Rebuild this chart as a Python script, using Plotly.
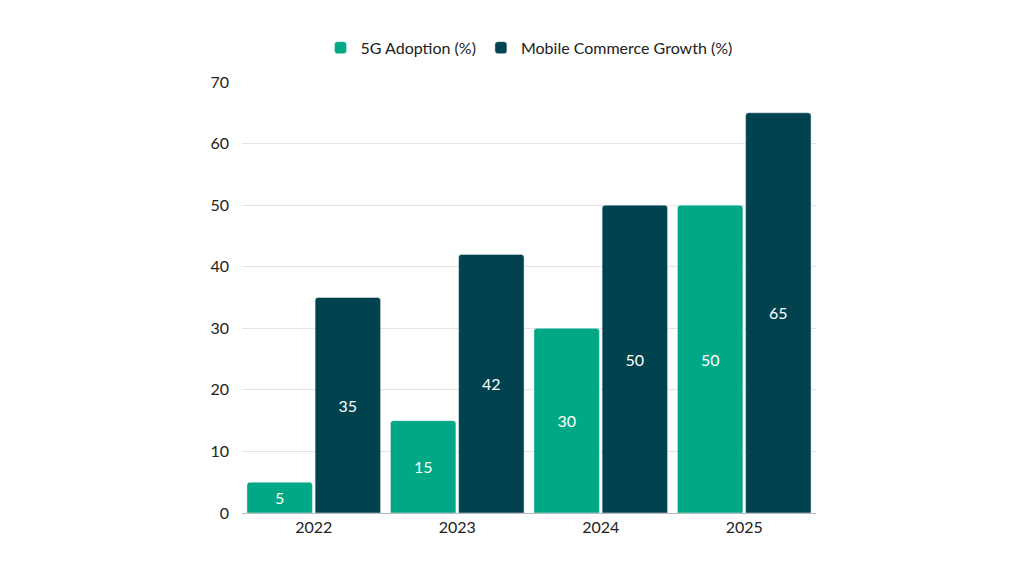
import plotly.graph_objects as go

years = ["2022", "2023", "2024", "2025"]
adoption_5g = [5, 15, 30, 50]
mobile_commerce = [35, 42, 50, 65]

fig = go.Figure()
fig.add_trace(go.Bar(
    x=years, y=adoption_5g, name="5G Adoption (%)",
    marker=dict(color="#00a886", cornerradius=3),
    text=adoption_5g, textposition="inside", insidetextanchor="middle",
    textfont=dict(color="white", size=16),
))
fig.add_trace(go.Bar(
    x=years, y=mobile_commerce, name="Mobile Commerce Growth (%)",
    marker=dict(color="#00434f", cornerradius=3),
    text=mobile_commerce, textposition="inside", insidetextanchor="middle",
    textfont=dict(color="white", size=16),
))

fig.update_layout(
    width=1024, height=576,
    paper_bgcolor="white", plot_bgcolor="white",
    font=dict(family="Lato", size=16, color="#222"),
    margin=dict(l=234, r=216, t=74, b=71),
    bargap=0.05, bargroupgap=0.04,
    showlegend=True,
    legend=dict(orientation="h", x=0.5, xanchor="center", y=1.04, yanchor="bottom",
                font=dict(size=16)),
    xaxis=dict(showgrid=False, showline=True, linecolor="#bbb", ticks=""),
    yaxis=dict(range=[0, 70], dtick=10, gridcolor="#e4e4e4", zeroline=False,
               ticklabelstandoff=12),
    uniformtext=dict(minsize=10),
)

fig.write_html("out.html")
